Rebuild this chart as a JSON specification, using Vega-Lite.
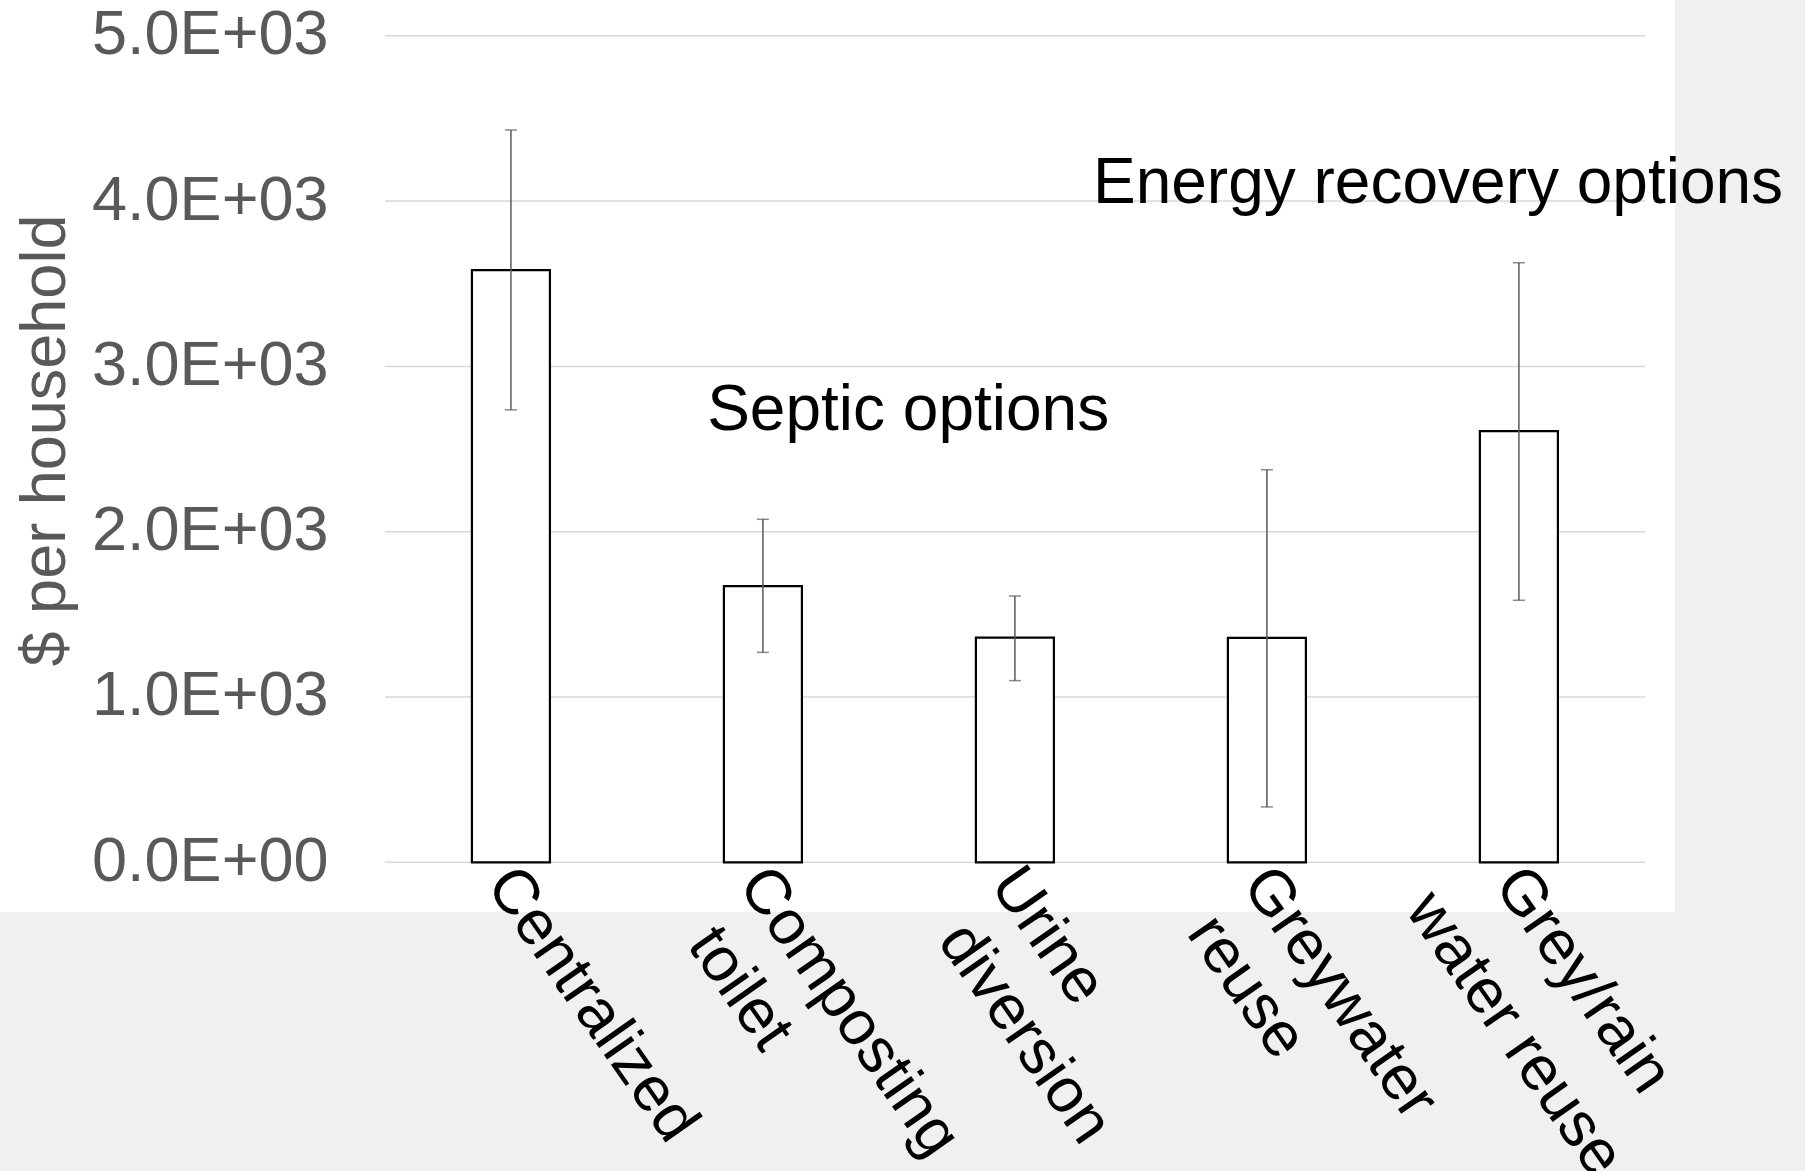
{
  "$schema": "https://vega.github.io/schema/vega-lite/v6.json",
  "width": 1675,
  "height": 912,
  "autosize": {"type": "none"},
  "padding": {"left": 0, "top": 0, "right": 130, "bottom": 259},
  "background": "#f0f0f0",
  "config": {
    "font": "Liberation Sans",
    "view": {"fill": "white", "stroke": null}
  },
  "datasets": {
    "costs": [
      {"option": "Centralized", "l1": "Centralized", "l2": "", "cost": 3583, "lo": 2737, "hi": 4430},
      {"option": "Composting toilet", "l1": "Composting", "l2": "toilet", "cost": 1671, "lo": 1270, "hi": 2075},
      {"option": "Urine diversion", "l1": "Urine", "l2": "diversion", "cost": 1359, "lo": 1099, "hi": 1611},
      {"option": "Greywater reuse", "l1": "Greywater", "l2": "reuse", "cost": 1358, "lo": 335, "hi": 2375},
      {"option": "Grey/rain water reuse", "l1": "Grey/rain", "l2": "water reuse", "cost": 2609, "lo": 1585, "hi": 3627}
    ],
    "grid": [{"g": 0}, {"g": 1000}, {"g": 2000}, {"g": 3000}, {"g": 4000}, {"g": 5000}],
    "septic": [{"label": "Septic options", "cat": "Composting toilet", "v": 2615}],
    "energy": [{"label": "Energy recovery options", "cat": "Urine diversion", "v": 3990}]
  },
  "layer": [
    {
      "data": {"name": "grid"},
      "mark": {"type": "rule", "color": "#d9d9d9", "strokeWidth": 1.5},
      "encoding": {
        "x": {"datum": "Centralized", "type": "nominal", "bandPosition": -0.273,
              "scale": {"domain": ["Centralized", "Composting toilet", "Urine diversion", "Greywater reuse", "Grey/rain water reuse"], "paddingInner": 0.353, "paddingOuter": 1, "align": 0.852},
              "axis": {"orient": "bottom", "domain": false, "ticks": false, "grid": false, "labels": false, "title": null}},
        "x2": {"datum": "Grey/rain water reuse", "bandPosition": 1.273},
        "y": {"field": "g", "type": "quantitative",
              "scale": {"domain": [-300.7, 5216.6], "nice": false, "zero": false},
              "axis": {
                "orient": "left", "offset": -338, "values": [0, 1000, 2000, 3000, 4000, 5000],
                "domain": false, "ticks": false, "grid": false,
                "labelPadding": 10, "labelFontSize": 63, "labelColor": "#595959",
                "labelBaseline": "alphabetic", "labelOffset": 18, "labelLimit": 2000,
                "labelExpr": "datum.value == 0 ? '0.0E+00' : format(datum.value / 1000, '.1f') + 'E+03'",
                "title": "$ per household", "titleFontSize": 63, "titleColor": "#595959",
                "titleFontWeight": "normal", "titleAngle": -90, "titleX": -274, "titleY": 440,
                "titleAlign": "center", "titleBaseline": "alphabetic"
              }}
      }
    },
    {
      "data": {"name": "costs"},
      "mark": {"type": "bar", "fill": "white", "stroke": "black", "strokeWidth": 2.2, "width": {"band": 0.4785}},
      "encoding": {
        "x": {"field": "option", "type": "nominal", "sort": null, "title": null,
              "scale": {"domain": ["Centralized", "Composting toilet", "Urine diversion", "Greywater reuse", "Grey/rain water reuse"], "paddingInner": 0.353, "paddingOuter": 1, "align": 0.852}},
        "y": {"field": "cost", "type": "quantitative", "title": "$ per household",
              "scale": {"domain": [-300.7, 5216.6], "nice": false, "zero": false}},
        "y2": {"datum": 0}
      }
    },
    {
      "data": {"name": "costs"},
      "mark": {"type": "rule", "color": "#595959", "strokeWidth": 1.5},
      "encoding": {
        "x": {"field": "option", "type": "nominal", "sort": null, "title": null,
              "scale": {"domain": ["Centralized", "Composting toilet", "Urine diversion", "Greywater reuse", "Grey/rain water reuse"], "paddingInner": 0.353, "paddingOuter": 1, "align": 0.852}},
        "y": {"field": "lo", "type": "quantitative", "title": "$ per household",
              "scale": {"domain": [-300.7, 5216.6], "nice": false, "zero": false}},
        "y2": {"field": "hi"}
      }
    },
    {
      "data": {"name": "costs"},
      "mark": {"type": "tick", "color": "#595959", "thickness": 1.5, "size": 12, "orient": "horizontal"},
      "encoding": {
        "x": {"field": "option", "type": "nominal", "sort": null, "title": null,
              "scale": {"domain": ["Centralized", "Composting toilet", "Urine diversion", "Greywater reuse", "Grey/rain water reuse"], "paddingInner": 0.353, "paddingOuter": 1, "align": 0.852}},
        "y": {"field": "hi", "type": "quantitative", "title": "$ per household",
              "scale": {"domain": [-300.7, 5216.6], "nice": false, "zero": false}}
      }
    },
    {
      "data": {"name": "costs"},
      "mark": {"type": "tick", "color": "#595959", "thickness": 1.5, "size": 12, "orient": "horizontal"},
      "encoding": {
        "x": {"field": "option", "type": "nominal", "sort": null, "title": null,
              "scale": {"domain": ["Centralized", "Composting toilet", "Urine diversion", "Greywater reuse", "Grey/rain water reuse"], "paddingInner": 0.353, "paddingOuter": 1, "align": 0.852}},
        "y": {"field": "lo", "type": "quantitative", "title": "$ per household",
              "scale": {"domain": [-300.7, 5216.6], "nice": false, "zero": false}}
      }
    },
    {
      "data": {"name": "costs"},
      "mark": {"type": "text", "fontSize": 63, "color": "black", "align": "left", "baseline": "top", "angle": 55},
      "encoding": {
        "x": {"field": "option", "type": "nominal", "bandPosition": 0.592, "title": null,
              "scale": {"domain": ["Centralized", "Composting toilet", "Urine diversion", "Greywater reuse", "Grey/rain water reuse"], "paddingInner": 0.353, "paddingOuter": 1, "align": 0.852}},
        "y": {"datum": 36, "type": "quantitative", "title": "$ per household",
              "scale": {"domain": [-300.7, 5216.6], "nice": false, "zero": false}},
        "text": {"field": "l1"}
      }
    },
    {
      "data": {"name": "costs"},
      "transform": [{"filter": "datum.option == 'Composting toilet'"}],
      "mark": {"type": "text", "fontSize": 63, "color": "black", "align": "left", "baseline": "top", "angle": 55, "dx": 20, "dy": 76},
      "encoding": {
        "x": {"field": "option", "type": "nominal", "bandPosition": 0.592, "title": null,
              "scale": {"domain": ["Centralized", "Composting toilet", "Urine diversion", "Greywater reuse", "Grey/rain water reuse"], "paddingInner": 0.353, "paddingOuter": 1, "align": 0.852}},
        "y": {"datum": 36, "type": "quantitative", "title": "$ per household",
              "scale": {"domain": [-300.7, 5216.6], "nice": false, "zero": false}},
        "text": {"field": "l2"}
      }
    },
    {
      "data": {"name": "costs"},
      "transform": [{"filter": "datum.option == 'Urine diversion'"}],
      "mark": {"type": "text", "fontSize": 63, "color": "black", "align": "left", "baseline": "top", "angle": 55, "dx": 16, "dy": 75},
      "encoding": {
        "x": {"field": "option", "type": "nominal", "bandPosition": 0.592, "title": null,
              "scale": {"domain": ["Centralized", "Composting toilet", "Urine diversion", "Greywater reuse", "Grey/rain water reuse"], "paddingInner": 0.353, "paddingOuter": 1, "align": 0.852}},
        "y": {"datum": 36, "type": "quantitative", "title": "$ per household",
              "scale": {"domain": [-300.7, 5216.6], "nice": false, "zero": false}},
        "text": {"field": "l2"}
      }
    },
    {
      "data": {"name": "costs"},
      "transform": [{"filter": "datum.option == 'Greywater reuse'"}],
      "mark": {"type": "text", "fontSize": 63, "color": "black", "align": "left", "baseline": "top", "angle": 55, "dx": 8, "dy": 73},
      "encoding": {
        "x": {"field": "option", "type": "nominal", "bandPosition": 0.592, "title": null,
              "scale": {"domain": ["Centralized", "Composting toilet", "Urine diversion", "Greywater reuse", "Grey/rain water reuse"], "paddingInner": 0.353, "paddingOuter": 1, "align": 0.852}},
        "y": {"datum": 36, "type": "quantitative", "title": "$ per household",
              "scale": {"domain": [-300.7, 5216.6], "nice": false, "zero": false}},
        "text": {"field": "l2"}
      }
    },
    {
      "data": {"name": "costs"},
      "transform": [{"filter": "datum.option == 'Grey/rain water reuse'"}],
      "mark": {"type": "text", "fontSize": 63, "color": "black", "align": "left", "baseline": "top", "angle": 55, "dx": -30, "dy": 87},
      "encoding": {
        "x": {"field": "option", "type": "nominal", "bandPosition": 0.592, "title": null,
              "scale": {"domain": ["Centralized", "Composting toilet", "Urine diversion", "Greywater reuse", "Grey/rain water reuse"], "paddingInner": 0.353, "paddingOuter": 1, "align": 0.852}},
        "y": {"datum": 36, "type": "quantitative", "title": "$ per household",
              "scale": {"domain": [-300.7, 5216.6], "nice": false, "zero": false}},
        "text": {"field": "l2"}
      }
    },
    {
      "data": {"name": "septic"},
      "mark": {"type": "text", "fontSize": 64, "color": "black", "align": "left", "baseline": "alphabetic"},
      "encoding": {
        "x": {"field": "cat", "type": "nominal", "bandPosition": 0.158, "title": null,
              "scale": {"domain": ["Centralized", "Composting toilet", "Urine diversion", "Greywater reuse", "Grey/rain water reuse"], "paddingInner": 0.353, "paddingOuter": 1, "align": 0.852}},
        "y": {"field": "v", "type": "quantitative", "title": "$ per household",
              "scale": {"domain": [-300.7, 5216.6], "nice": false, "zero": false}},
        "text": {"field": "label"}
      }
    },
    {
      "data": {"name": "energy"},
      "mark": {"type": "text", "fontSize": 64, "color": "black", "align": "left", "baseline": "alphabetic"},
      "encoding": {
        "x": {"field": "cat", "type": "nominal", "bandPosition": 0.979, "title": null,
              "scale": {"domain": ["Centralized", "Composting toilet", "Urine diversion", "Greywater reuse", "Grey/rain water reuse"], "paddingInner": 0.353, "paddingOuter": 1, "align": 0.852}},
        "y": {"field": "v", "type": "quantitative", "title": "$ per household",
              "scale": {"domain": [-300.7, 5216.6], "nice": false, "zero": false}},
        "text": {"field": "label"}
      }
    }
  ]
}
